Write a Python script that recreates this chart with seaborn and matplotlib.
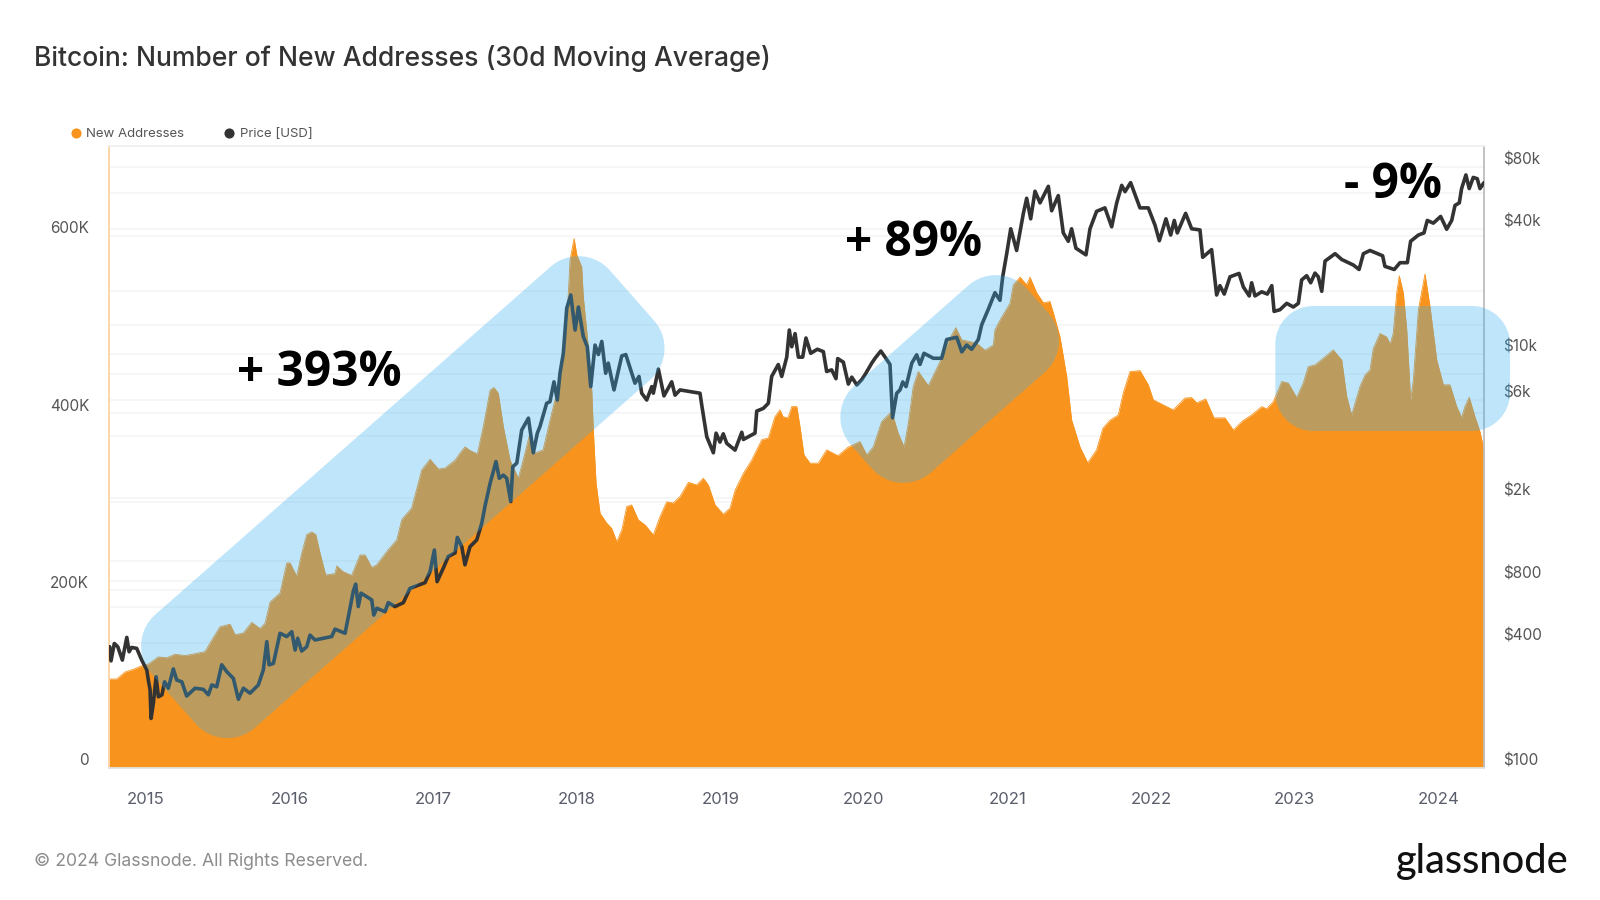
import numpy as np
import matplotlib
matplotlib.use("Agg")
import matplotlib.pyplot as plt
import seaborn as sns
from matplotlib.path import Path
from matplotlib.patches import PathPatch
from matplotlib.lines import Line2D
from matplotlib.transforms import Affine2D, ScaledTranslation

# ---- data: years since 2000, new addresses (thousands) ----
addr_t = [14.742,14.796,14.854,14.912,14.970,15.016,15.086,15.144,15.202,15.272,15.353,15.411,15.458,15.515,15.585,15.620,15.678,15.736,15.794,15.829,15.864,15.933,15.980,16.003,16.049,16.084,16.119,16.154,16.182,16.212,16.251,16.316,16.328,16.374,16.432,16.490,16.525,16.572,16.607,16.687,16.746,16.781,16.850,16.920,16.978,17.036,17.082,17.152,17.187,17.221,17.256,17.307,17.349,17.396,17.423,17.453,17.488,17.535,17.593,17.639,17.674,17.709,17.765,17.825,17.883,17.930,17.953,17.981,18.000,18.034,18.045,18.080,18.104,18.115,18.134,18.162,18.208,18.243,18.278,18.313,18.348,18.382,18.428,18.475,18.533,18.579,18.626,18.672,18.719,18.777,18.835,18.881,18.916,18.963,19.020,19.067,19.102,19.160,19.218,19.288,19.334,19.380,19.415,19.436,19.471,19.497,19.532,19.554,19.582,19.624,19.682,19.740,19.819,19.889,19.972,20.019,20.065,20.123,20.193,20.239,20.279,20.309,20.343,20.378,20.448,20.529,20.587,20.639,20.681,20.785,20.843,20.901,20.912,20.947,21.017,21.040,21.087,21.133,21.156,21.203,21.249,21.295,21.319,21.365,21.412,21.446,21.504,21.558,21.620,21.664,21.713,21.771,21.806,21.853,21.922,21.980,22.015,22.154,22.235,22.282,22.317,22.380,22.437,22.514,22.572,22.642,22.700,22.770,22.804,22.851,22.909,22.955,23.013,23.059,23.094,23.141,23.199,23.268,23.327,23.362,23.396,23.454,23.489,23.524,23.547,23.594,23.640,23.664,23.686,23.710,23.728,23.756,23.780,23.807,23.826,23.861,23.907,23.942,23.989,24.035,24.081,24.128,24.162,24.185,24.215,24.255,24.290,24.318]
addr_k = [100,100,108,111,115,117,125,124,128,126.5,129,131,144,159,162,150,152,164,157,163,187,197,231,231,216,242,263,266,263,242,217.5,219,227.6,221,217,240,240,226,229,246,257,280,293,336,348,337,338,347,355,362,358,354,385,426,429,422.5,385,347,326.6,355,378,355,358.6,400,437.6,502,573,597,578.6,565,531.6,475,426,381,321,287,276,270,255,268,294.6,296.5,279.6,274,262.6,283,300,298.7,306,322,319,326.6,319,296.5,286,292.8,313,332,347,370,372,396,403.7,396,394.7,407.4,407.4,385,353,343.6,343.6,358.6,352,361.6,368,353,362,390.5,402,377,362,389,430,447,431,458,481,496.6,482.7,479,471,477,494,505,524,544.8,553.5,544.8,553.5,535.8,524.5,526,513,486,441,392.4,362,344,358.6,383,392,398,423,447,448,432,415,403.7,417,417.6,411.6,416,394.7,394.7,381,392,398,407.4,404.9,413,435.7,434,417.6,434,452.6,454.5,462,471.4,460,418.7,398,430,443,448.9,473,490,486,478,490,535.8,555,535.8,494,415,437.6,516.6,557,520,460,432,432,407.4,395,407.4,418,396,379,358.6]

price_t = [14.747,14.756,14.779,14.803,14.835,14.866,14.882,14.900,14.935,14.970,15.005,15.016,15.028,15.035,15.051,15.070,15.086,15.111,15.129,15.155,15.190,15.214,15.249,15.283,15.341,15.399,15.434,15.458,15.492,15.527,15.562,15.608,15.643,15.678,15.724,15.782,15.817,15.841,15.857,15.887,15.933,15.980,16.015,16.038,16.056,16.084,16.119,16.142,16.177,16.293,16.316,16.386,16.409,16.444,16.460,16.478,16.497,16.537,16.572,16.586,16.607,16.664,16.687,16.734,16.792,16.838,16.943,16.978,17.008,17.027,17.070,17.105,17.152,17.168,17.199,17.221,17.256,17.303,17.338,17.361,17.396,17.437,17.460,17.488,17.512,17.540,17.554,17.582,17.616,17.663,17.697,17.725,17.744,17.790,17.813,17.841,17.864,17.883,17.906,17.930,17.958,17.988,18.011,18.045,18.073,18.097,18.127,18.150,18.174,18.201,18.219,18.259,18.313,18.341,18.405,18.433,18.452,18.487,18.522,18.533,18.568,18.607,18.661,18.684,18.719,18.858,18.870,18.893,18.905,18.951,18.970,18.997,19.020,19.044,19.102,19.149,19.160,19.241,19.253,19.299,19.334,19.357,19.403,19.427,19.462,19.480,19.497,19.520,19.543,19.573,19.596,19.629,19.675,19.717,19.740,19.775,19.805,19.817,19.856,19.891,19.915,19.950,19.985,20.013,20.054,20.077,20.117,20.147,20.181,20.195,20.199,20.228,20.251,20.270,20.293,20.333,20.367,20.390,20.418,20.483,20.541,20.576,20.646,20.681,20.715,20.750,20.796,20.820,20.866,20.912,20.947,20.966,20.994,21.022,21.063,21.110,21.133,21.161,21.191,21.226,21.284,21.307,21.353,21.388,21.423,21.446,21.476,21.546,21.574,21.620,21.678,21.725,21.760,21.795,21.818,21.857,21.922,21.980,22.027,22.057,22.103,22.136,22.161,22.182,22.240,22.282,22.340,22.359,22.421,22.456,22.479,22.509,22.549,22.612,22.642,22.683,22.700,22.723,22.770,22.809,22.840,22.856,22.897,22.944,22.990,23.025,23.048,23.083,23.111,23.141,23.164,23.188,23.211,23.281,23.327,23.408,23.448,23.478,23.524,23.612,23.628,23.693,23.733,23.784,23.807,23.861,23.900,23.923,23.965,24.016,24.058,24.093,24.116,24.146,24.162,24.192,24.215,24.243,24.271,24.290,24.318]
price_usd = [384,328,398,384,331,426,363,381,377,331,297,265,238,173,205,275,220,225,260,242,300,265,260,222,242,239,225,251,246,314,291,270,214,242,229,251,297,406,314,319,446,430,454,370,422,366,384,437,414,430,467,446,536,716,770,600,697,670,646,546,589,567,627,600,627,735,783,886,1126,792,920,1048,1090,1295,1168,955,1168,1259,1516,1840,2360,3010,2500,2590,2500,1930,2840,2960,4270,4880,3320,4130,4460,5760,5860,7310,5970,8060,10040,16600,19200,13000,16800,12100,10800,6930,11000,9900,11460,8040,9000,6680,9750,9900,7200,7760,6440,5970,6930,6440,8420,6250,7310,6300,6680,6440,5650,4460,3970,3320,4130,3740,4100,3690,3420,4170,3850,4130,5280,5440,5760,7760,8860,7760,9620,13000,10800,12500,9620,9620,11900,10040,10500,10230,8200,8350,7570,9470,9100,7130,7700,7060,7500,8040,9000,9500,10300,9620,8870,5560,4900,6440,6680,7300,6930,9000,9870,8870,10040,9500,9500,11700,12000,10200,11000,10500,11700,13800,16400,19700,18100,23500,30400,40100,31500,47600,56300,44800,60900,53500,64300,49000,58000,38300,34900,40100,32300,30000,40100,48700,50600,41000,53500,65000,60600,67000,50600,50600,41700,35100,44800,37400,44000,38300,47600,40100,39600,29200,31800,19200,21300,19400,23500,24400,21000,19000,22000,19000,19900,19400,21300,16000,16300,17500,16800,17500,22700,23800,22000,24500,23500,20000,28000,30400,28500,26800,25500,30400,31500,29700,26400,25500,27500,27500,34900,37400,38300,44000,42700,46000,39900,44000,52000,53500,62700,73000,62700,71000,70000,62700,67000]

year_ticks = [2015,2016,2017,2018,2019,2020,2021,2022,2023,2024]
left_labelled = [0,200,400,600]
left_unlabelled = [100,300,500]
right_labelled = {100:"$100",400:"$400",800:"$800",2000:"$2k",6000:"$6k",10000:"$10k",40000:"$40k",80000:"$80k"}
right_unlabelled = [200,600,1000,4000,8000,20000,60000]

ORANGE = "#F8941D"
DARK = "#333333"
GRID = "#F5F5F5"
W, H = 1600, 900

sns.set_theme(style="white")
plt.rcParams["font.family"] = ["Inter", "DejaVu Sans"]

fig = plt.figure(figsize=(16, 9), dpi=100)
pos = [109/W, 1-767.7/H, (1484-109)/W, (767.7-146)/H]

# grid + right tick labels (lowest layer)
ax_r = fig.add_axes(pos, zorder=1)
ax_r.set_yscale("log")
ax_r.set_ylim(100, 100700)
ax_r.set_xlim(2014.742, 2024.318)
ax_r.yaxis.tick_right()
ax_r.set_yticks(list(right_labelled), list(right_labelled.values()))
ax_r.set_yticks(right_unlabelled, minor=True)
ax_r.yaxis.set_minor_formatter(matplotlib.ticker.NullFormatter())
ax_r.grid(True, which="both", axis="y", color=GRID, lw=1.2)
ax_r.tick_params(axis="y", which="both", length=0, pad=13.7, labelsize=11, labelcolor="#555555")
ax_r.set_xticks([])
for s in ax_r.spines.values():
    s.set_visible(False)

# orange area + left axis + years
ax = fig.add_axes(pos, zorder=2)
ax.patch.set_alpha(0)
t_a = 2000 + np.array(addr_t)
v_a = np.array(addr_k) * 1000
sns.lineplot(x=t_a, y=v_a, ax=ax, color=ORANGE, lw=0.6, estimator=None)
ax.fill_between(t_a, 0, v_a, color=ORANGE, lw=0)
ax.set_xlim(2014.742, 2024.318)
ax.set_ylim(0, 701500)
ax.set_yticks([k*1000 for k in left_labelled], ["0" if k == 0 else f"{k}K" for k in left_labelled])
ax.set_yticks([k*1000 for k in left_unlabelled], minor=True)
ax.grid(True, which="both", axis="y", color=GRID, lw=1.2)
ax.set_axisbelow(True)
ax.set_xticks(year_ticks, [str(y) for y in year_ticks])
ax.tick_params(axis="x", length=8.6, width=1, color="#EEEEEE", pad=9, labelsize=12, labelcolor="#5A5E6B")
ax.tick_params(axis="y", which="both", length=0, pad=14.4, labelsize=11, labelcolor="#555555")
for s, c in dict(left="#FBD3A3", right="#BDBDBD", top="#F0F0F0", bottom="#E4E4E4").items():
    ax.spines[s].set_color(c)
    ax.spines[s].set_linewidth(1.3)
    ax.spines[s].set_zorder(5)
ax.set_xlabel(""); ax.set_ylabel("")

# tick labels sit just above their grid lines
for lab in ax.get_yticklabels() + ax_r.get_yticklabels():
    lab.set_transform(lab.get_transform() + ScaledTranslation(0, 8.5/100, fig.dpi_scale_trans))

# price line
ax_p = fig.add_axes(pos, zorder=3)
ax_p.patch.set_alpha(0)
sns.lineplot(x=2000 + np.array(price_t), y=price_usd, ax=ax_p, color=DARK, lw=2.6, estimator=None)
ax_p.set_yscale("log")
ax_p.set_ylim(100, 100700)
ax_p.set_xlim(2014.742, 2024.318)
ax_p.axis("off")

# helpers in pixel coordinates, origin top-left
px = Affine2D().scale(1/W, -1/H).translate(0, 1) + fig.transFigure

def rounded(points, r):
    verts, codes = [], []
    n = len(points)
    k = 0.5523
    for i in range(n):
        p0, p1, p2 = map(np.array, (points[i-1], points[i], points[(i+1) % n]))
        a = p1 + (p0-p1)/np.linalg.norm(p0-p1)*r
        b = p1 + (p2-p1)/np.linalg.norm(p2-p1)*r
        verts.append(a); codes.append(Path.MOVETO if i == 0 else Path.LINETO)
        verts += [a+(p1-a)*k, b+(p1-b)*k, b]; codes += [Path.CURVE4]*3
    verts.append(verts[0]); codes.append(Path.CLOSEPOLY)
    return Path(verts, codes)

for corners, r in [
    ([(123.8,642.3),(223.5,755.4),(681.8,352.1),(582.2,238.9)], 42),
    ([(823.1,413.3),(899.5,500.1),(1076.2,344.6),(999.8,257.8)], 42),
    ([(1275.3,306),(1275.3,431),(1510,431),(1510,306)], 38),
]:
    fig.add_artist(PathPatch(rounded(corners, r), transform=px, fc="#33AEF2", ec="none", alpha=0.31, zorder=10))

def label(x, y, s, **kw):
    kw.setdefault("va", "center")
    fig.text(x, y, s, transform=px, zorder=12, **kw)

label(34, 59, "Bitcoin: Number of New Addresses (30d Moving Average)", fontsize=19.1, color="#333333", fontweight="medium")
label(34, 861, "\u00a9 2024 Glassnode. All Rights Reserved.", fontsize=12.7, color="#8C8C8C")
label(1396, 861, "glassnode", fontsize=28.5, color="#111111", family="Lato", fontweight="medium")
for x, y, s in [(237, 374, "+ 393%"), (845, 243, "+ 89%"), (1344, 186, "- 9%")]:
    label(x, y, s, fontsize=34.4, fontweight="bold", color="black", family="Open Sans")

handles = [Line2D([], [], ls="", marker="o", ms=7.3, color=ORANGE, mec="none"),
           Line2D([], [], ls="", marker="o", ms=7.3, color=DARK, mec="none")]
fig.legend(handles, ["New Addresses", "Price [USD]"], loc="center left", bbox_to_anchor=(69/W, 1-134/H),
           ncol=2, frameon=False, fontsize=9.5, labelcolor="#555555", handletextpad=0.3, handlelength=1.0,
           columnspacing=2.9, borderpad=0, borderaxespad=0)

fig.savefig("out.png", dpi=100, facecolor="white")
